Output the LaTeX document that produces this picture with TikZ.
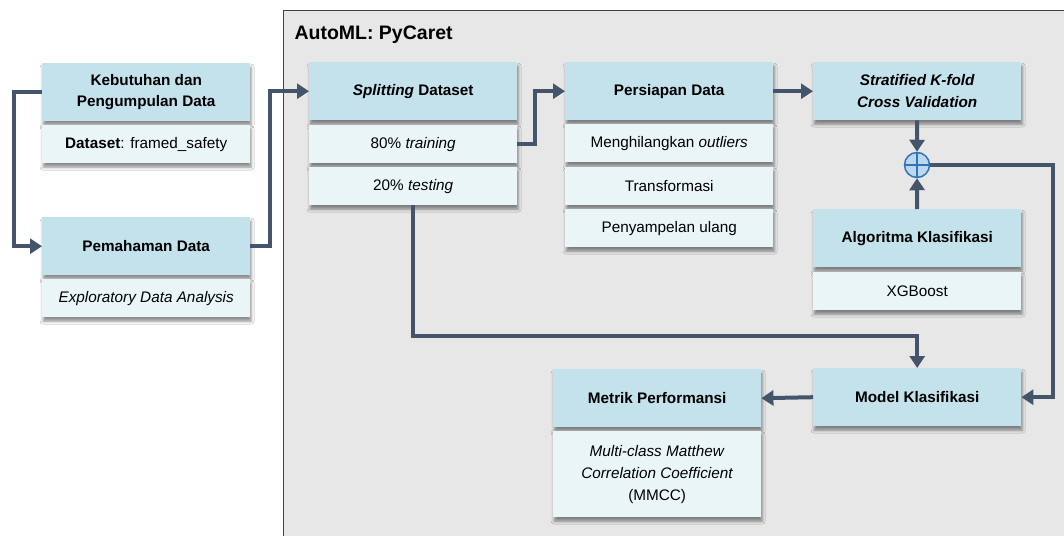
\documentclass[tikz,border=0pt]{standalone}
\usepackage{fontspec}
\setmainfont{Liberation Sans}
\usetikzlibrary{shadows.blur,arrows.meta}
\definecolor{hdr}{HTML}{C3E2EB}
\definecolor{subc}{HTML}{EAF5F8}
\definecolor{bgc}{HTML}{E7E7E7}
\definecolor{arr}{HTML}{44546A}
\definecolor{circ}{HTML}{BDD7EE}
\definecolor{circb}{HTML}{2E75B6}
\tikzset{
  shd/.style={blur shadow={shadow xshift=1pt, shadow yshift=-4pt, shadow blur radius=3pt, shadow opacity=45}},
  hdrbox/.style={shd, fill=hdr, anchor=north west, minimum width=208pt, minimum height=58pt, inner sep=0pt, align=center, font=\fontsize{15.3}{21.5}\selectfont\bfseries},
  subbox/.style={shd, fill=subc, anchor=north west, minimum width=208pt, minimum height=38pt, inner sep=0pt, align=center, font=\fontsize{15.3}{22}\selectfont},
  conn/.style={draw=arr, line width=4pt, -{Triangle[length=12pt,width=15pt]}}
}
\begin{document}
\begin{tikzpicture}[x=1pt,y=1pt]
\useasboundingbox (0,0) rectangle (1064,-535);
\fill[white] (0,0) rectangle (1064,-535);
\draw[fill=bgc, draw=black!75, line width=0.8pt] (283,-10) rectangle (1070,-545);
\node[anchor=west, font=\fontsize{19.5}{21}\selectfont\bfseries] (title) at (291,-35) {AutoML: PyCaret};

% left boxes
\node[hdrbox] (K) at (42,-63) {Kebutuhan dan\\Pengumpulan Data};
\node[subbox] (Ks) at (42,-125) {\textbf{Dataset}: framed\_safety};
\node[hdrbox] (P) at (42,-217) {Pemahaman Data};
\node[subbox] (Ps) at (42,-279) {\textit{Exploratory Data Analysis}};

% splitting
\node[hdrbox] (S) at (309,-62) {\textit{Splitting} Dataset};
\node[subbox] (S1) at (309,-125) {80\% \textit{training}};
\node[subbox] (S2) at (309,-167) {20\% \textit{testing}};

% persiapan
\node[hdrbox] (PD) at (565,-62) {Persiapan Data};
\node[subbox] (PD1) at (565,-124) {Menghilangkan \textit{outliers}};
\node[subbox] (PD2) at (565,-167) {Transformasi};
\node[subbox] (PD3) at (565,-209) {Penyampelan ulang};

% stratified
\node[hdrbox] (SK) at (813,-62) {\itshape Stratified K-fold\\\itshape Cross Validation};
\node[circle, draw=circb, fill=circ, line width=1.5pt, minimum size=25pt, inner sep=0pt] (c) at (917,-165) {};
\draw[circb, line width=1.5pt] (c.north) -- (c.south) (c.west) -- (c.east);
\node[hdrbox] (AK) at (813,-209) {Algoritma Klasifikasi};
\node[subbox] (AKs) at (813,-272) {XGBoost};

% bottom
\node[hdrbox] (MK) at (813,-368) {Model Klasifikasi};
\node[hdrbox] (MP) at (553,-369) {Metrik Performansi};
\node[subbox, minimum height=86pt] (MPs) at (553,-431) {\textit{Multi-class Matthew}\\\textit{Correlation Coefficient}\\(MMCC)};

% connectors
\draw[conn] (K.west) -- ++(-28,0) |- (P.west);
\draw[conn] (P.east) -- ++(20,0) |- (S.west);
\draw[conn] (S1.east) -- ++(18,0) |- (PD.west);
\draw[conn] (PD.east) -- (SK.west);
\draw[conn] (SK.south) -- (c.north);
\draw[conn] (AK.north) -- (c.south);
\draw[conn] (c.east) -| ([xshift=32pt]MK.east) -- (MK.east);
\draw[conn] (S2.south) -- ++(0,-131) -| (MK.north);
\draw[conn] (MK.west) -- (MP.east);
\end{tikzpicture}
\end{document}
